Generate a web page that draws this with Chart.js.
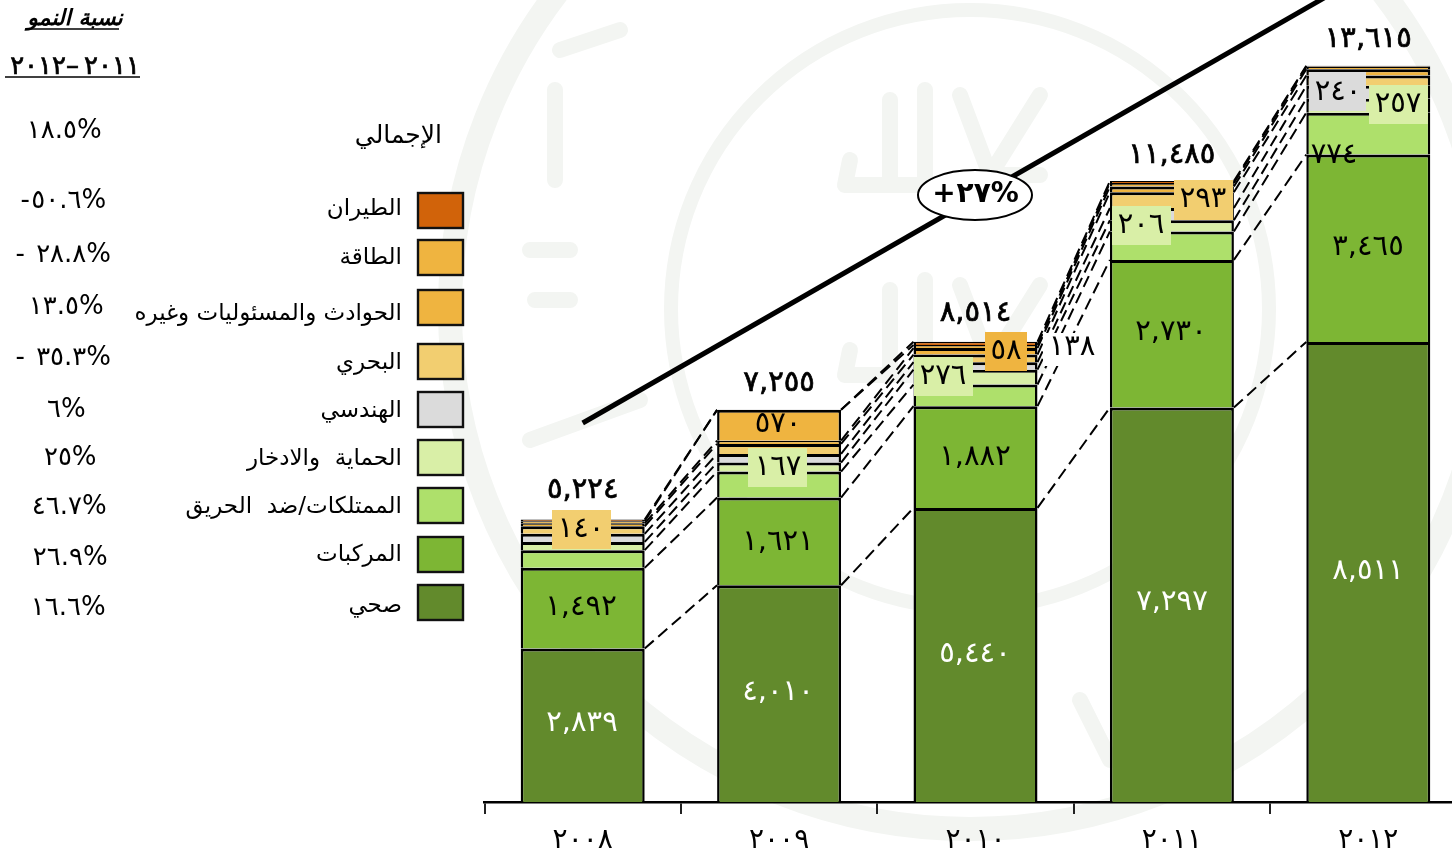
<!DOCTYPE html>
<html lang="ar">
<head>
<meta charset="utf-8">
<title>chart</title>
<script src="https://cdn.jsdelivr.net/npm/chart.js@4"></script>
<style>
html,body{margin:0;padding:0;background:#fff;overflow:hidden;width:1452px;height:851px}
canvas{display:block;position:absolute;left:0;top:0}
</style>
</head>
<body>
<canvas id="c" width="1500" height="851"></canvas>
<script>
const categories = ['٢٠٠٨','٢٠٠٩','٢٠١٠','٢٠١١','٢٠١٢'];
const health      = [2839,4010,5440,7297,8511];
const vehicles    = [1492,1621,1882,2730,3465];
const property    = [327,481,400,528,774];
const protection  = [153,167,276,206,257];
const engineering = [150,160,138,226,240];
const marine      = [140,185,140,293,190];
const liability   = [53,60,120,104,118];
const energy      = [40,570,58,68,48];
const aviation    = [30,0,60,33,16];
const totals      = [5224,7255,8514,11485,13615];
const totalLabels = ['٥,٢٢٤','٧,٢٥٥','٨,٥١٤','١١,٤٨٥','١٣,٦١٥'];
const growthLine  = [7011,null,null,null,15343];
const seriesNames = ['صحي','المركبات','الممتلكات/ضد  الحريق','الحماية  والادخار','الهندسي','البحري','الحوادث والمسئوليات وغيره','الطاقة','الطيران'];
const growthRates = ['١٦.٦%','٢٦.٩%','٤٦.٧%','٢٥%','٦%','- ٣٥.٣%','١٣.٥%','- ٢٨.٨%','-٥٠.٦%'];
const totalRate   = '١٨.٥%';
const totalName   = 'الإجمالي';
const rateTitle   = 'نسبة النمو';
const rateYears   = '٢٠١١–٢٠١٢';
const cagrLabel   = '+٢٧%';

const colors = ['#628a2c','#7db634','#aee06b','#d9efa7','#dbdbdb','#f2ce70','#efb440','#efb440','#d1630a'];
const seriesData = [health,vehicles,property,protection,engineering,marine,liability,energy,aviation];
const arabicDigits = n => String(n).replace(/\B(?=(\d{3})+$)/g,',').replace(/\d/g,d=>'٠١٢٣٤٥٦٧٨٩'[d]);

const labelSpecs = [
 {s:0,i:0,x:582,y:723,c:'#fff'},{s:0,i:1,x:778,y:692,c:'#fff'},{s:0,i:2,x:975,y:654,c:'#fff'},{s:0,i:3,x:1172,y:602,c:'#fff'},{s:0,i:4,x:1368,y:571,c:'#fff'},
 {s:1,i:0,x:581,y:607},{s:1,i:1,x:778,y:542},{s:1,i:2,x:975,y:457},{s:1,i:3,x:1171,y:332},{s:1,i:4,x:1368,y:247},
 {s:5,i:0,x:581,y:529,box:[552,510,59,39]},
 {s:3,i:1,x:778,y:467,box:[748,448,59,39]},
 {s:7,i:1,x:778,y:424},
 {s:3,i:2,x:943,y:376,box:[914,357,59,39]},
 {s:7,i:2,x:1006,y:351,box:[985,332,42,39]},
 {s:4,i:2,x:1072,y:347,box:[1043,333,58,33],bg:'#fff'},
 {s:3,i:3,x:1141,y:225,box:[1112,206,59,39]},
 {s:5,i:3,x:1203,y:199,box:[1174,180,59,40]},
 {s:4,i:4,x:1338,y:92,box:[1309,72,57,39]},
 {s:3,i:4,x:1398,y:104,box:[1369,85,59,39]},
 {s:2,i:4,x:1334,y:155}
];
const legendRows = [585,537,488,440,392,344,290,240,193];
const legendTextY = [606,555,507,459,411,363,314,258,209];
const rateRows = [608,558,507,458,410,358,307,255,201];
const rateX = [69,71,70,71,67,64,67,64,64];
const totalY = [490,383,313,155,39];
const ARABIC = '"DejaVu Sans","Liberation Sans",sans-serif';
const LABEL_FONT = '"DejaVu Sans",sans-serif';

const watermark = {
 id:'watermark',
 beforeDraw(chart){
  const c=chart.ctx; c.save();
  c.letterSpacing='0px';
  c.strokeStyle='#f3f5f2'; c.lineCap='round'; c.lineJoin='round';
  c.lineWidth=24; c.beginPath(); c.arc(970,309,520,0,Math.PI*2); c.stroke();
  c.lineWidth=14; c.beginPath(); c.arc(970,309,299,0,Math.PI*2); c.stroke();
  c.lineWidth=16;
  [[0],[190]].forEach(([d])=>{
    c.beginPath();
    c.moveTo(850,160+d);c.lineTo(845,185+d);c.lineTo(930,185+d);
    c.moveTo(890,100+d);c.lineTo(890,180+d);
    c.moveTo(925,90+d);c.lineTo(925,180+d);
    c.moveTo(960,95+d);c.lineTo(990,175+d);c.lineTo(1040,175+d);
    c.moveTo(1040,95+d);c.lineTo(990,175+d);
    c.stroke();
  });
  c.beginPath();c.moveTo(555,90);c.lineTo(555,180);c.moveTo(530,250);c.lineTo(570,250);c.moveTo(535,300);c.lineTo(570,300);c.moveTo(530,440);c.lineTo(640,400);
  c.moveTo(560,50);c.lineTo(620,30);c.moveTo(1080,700);c.lineTo(1110,760);c.stroke();
  c.restore();
  chart.ctx.letterSpacing='5px';
 }
};

const decor = {
 id:'decor',
 beforeDatasetsDraw(chart){
  const c=chart.ctx; c.save(); c.letterSpacing='0px';
  c.strokeStyle='#000'; c.lineWidth=2; c.setLineDash([12,6]);
  for(let s=0;s<seriesData.length;s++){
    const m=chart.getDatasetMeta(s).data;
    for(let i=0;i<m.length-1;i++){
      const a=m[i].getProps(['x','y','width'],true), b=m[i+1].getProps(['x','y','width'],true);
      c.beginPath(); c.moveTo(a.x+a.width/2,a.y); c.lineTo(b.x-b.width/2,b.y); c.stroke();
    }
  }
  c.restore();
 },
 afterDraw(chart){
  const c=chart.ctx; c.save();
  c.textBaseline='middle';
  c.fillStyle='#fff'; c.strokeStyle='#000'; c.lineWidth=2;
  c.beginPath(); c.ellipse(975,195,57,25,0,0,Math.PI*2); c.fill(); c.stroke();
  c.fillStyle='#000'; c.textAlign='center'; c.direction='ltr';
  c.letterSpacing='1px'; c.font='bold 28px '+LABEL_FONT;
  c.fillText(cagrLabel,976,195);

  labelSpecs.forEach(l=>{
    if(l.box){ c.fillStyle=l.bg||colors[l.s]; c.fillRect(l.box[0],l.box[1],l.box[2],l.box[3]); }
    c.fillStyle=l.c||'#000';
    c.font='29px '+LABEL_FONT; c.letterSpacing='5px';
    c.fillText(arabicDigits(seriesData[l.s][l.i]),l.x,l.y);
  });
  const meta=chart.getDatasetMeta(0).data;
  c.font='29px '+LABEL_FONT; c.letterSpacing='7px'; c.fillStyle='#000'; c.strokeStyle='#000'; c.lineWidth=0.7;
  totalLabels.forEach((t,i)=>{c.fillText(t,meta[i].x,totalY[i]);c.strokeText(t,meta[i].x,totalY[i]);});

  c.letterSpacing='0px';
  seriesNames.forEach((n,i)=>{
    c.fillStyle=colors[i]; c.strokeStyle='#111'; c.lineWidth=2.4;
    c.fillRect(418,legendRows[i],45,35); c.strokeRect(418,legendRows[i],45,35);
    c.fillStyle='#000'; c.textAlign='right'; c.direction='rtl';
    c.font='23px '+ARABIC;
    c.fillText(n,402,legendTextY[i]);
  });
  c.font='25px '+ARABIC;
  c.fillText(totalName,442,136);

  c.direction='ltr'; c.textAlign='center'; c.font='26px '+LABEL_FONT; c.letterSpacing='1.5px';
  growthRates.forEach((t,i)=>c.fillText(t,rateX[i],rateRows[i]));
  c.fillText(totalRate,65,131);
  c.font='italic bold 22px '+ARABIC; c.letterSpacing='0px'; c.direction='rtl';
  c.fillText(rateTitle,75,19);
  c.strokeStyle='#000'; c.lineWidth=1.5;
  c.beginPath(); c.moveTo(26,29); c.lineTo(119,29); c.stroke();
  c.font='26px '+LABEL_FONT; c.letterSpacing='5px'; c.direction='ltr'; c.lineWidth=0.7;
  c.fillText(rateYears,75,67); c.strokeText(rateYears,75,67);
  c.lineWidth=1.5;
  c.beginPath(); c.moveTo(5,77); c.lineTo(140,77); c.stroke();
  c.restore();
 }
};

const datasets = seriesData.map((d,i)=>({
  type:'bar', label:seriesNames[i], data:d, backgroundColor:colors[i],
  borderColor:'#000', borderWidth:{top:3,left:2.5,right:2.5,bottom:0}, stack:'a',
  categoryPercentage:124/196.4, barPercentage:1, order:2
}));
datasets.push({type:'line',label:'growth',data:growthLine,borderColor:'#000',borderWidth:5,
  pointRadius:0,spanGaps:true,fill:false,order:1,tension:0,borderCapStyle:'butt'});

new Chart(document.getElementById('c'),{
  data:{labels:categories,datasets},
  plugins:[watermark,decor],
  options:{
    responsive:false,animation:false,events:[],
    layout:{padding:{left:484.5,right:33.5,top:0,bottom:0}},
    plugins:{legend:{display:false},tooltip:{enabled:false}},
    scales:{
      x:{stacked:true,offset:true,
         grid:{drawOnChartArea:false,color:'#000',tickLength:12,lineWidth:2,offset:true,tickWidth:2,tickColor:'#222'},
         border:{color:'#000',width:2.5},
         ticks:{color:'#000',font:{family:LABEL_FONT,size:28,weight:'normal'},padding:10,maxRotation:0,autoSkip:false},
         afterFit(s){s.height=49;}},
      y:{display:false,stacked:true,min:0,max:802/0.05406}
    }
  }
});
</script>
</body>
</html>
